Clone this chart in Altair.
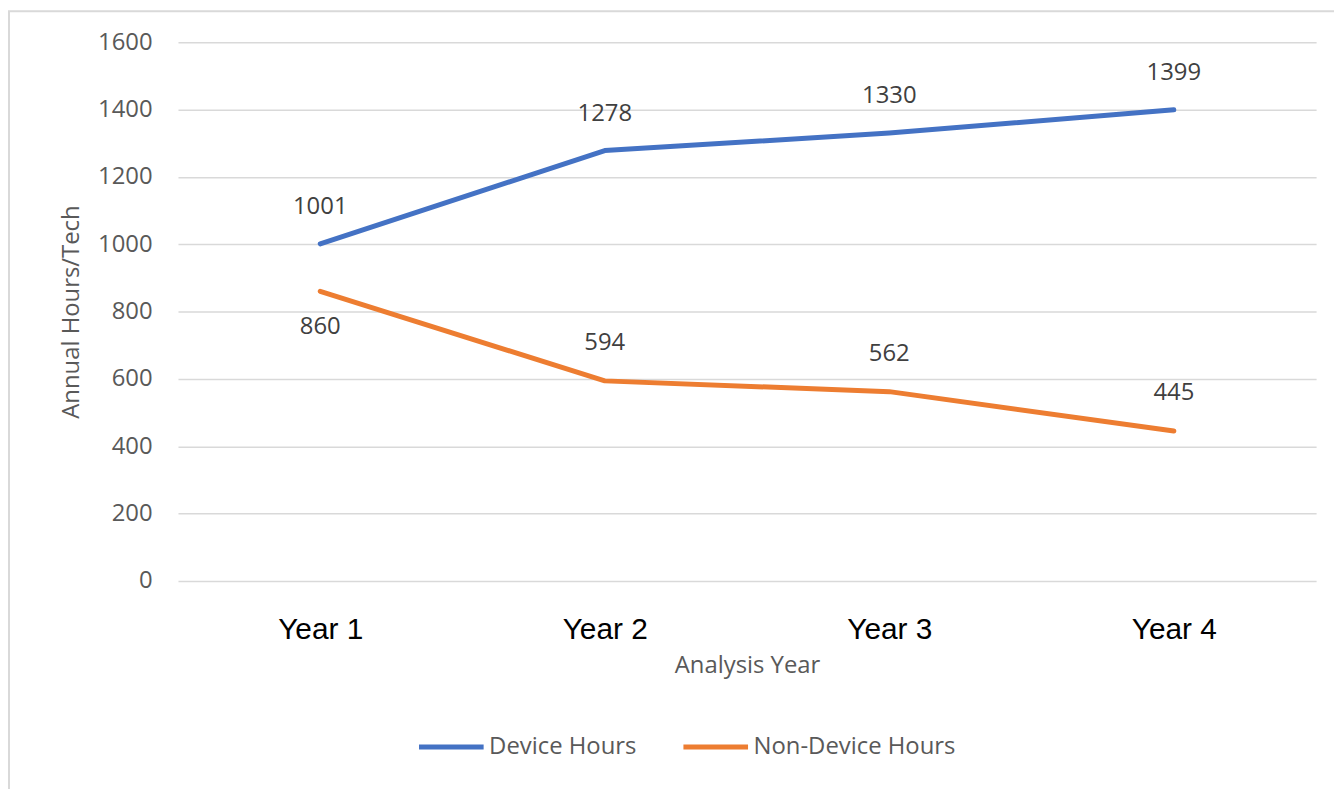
import altair as alt
import pandas as pd

years = ["Year 1", "Year 2", "Year 3", "Year 4"]
device_hours = [1001, 1278, 1330, 1399]
non_device_hours = [860, 594, 562, 445]
series_names = ["Device Hours", "Non-Device Hours"]
series_colors = ["#4472C4", "#ED7D31"]
y_ticks = [0, 200, 400, 600, 800, 1000, 1200, 1400, 1600]

rows = []
for yr, d, n in zip(years, device_hours, non_device_hours):
    rows.append({"year": yr, "series": series_names[0], "value": d})
    rows.append({"year": yr, "series": series_names[1], "value": n})
df = pd.DataFrame(rows)

FONT = "Open Sans"
GRAY = "#595959"

x_enc = alt.X(
    "year:N",
    sort=years,
    scale=alt.Scale(type="point", padding=0.5),
    axis=alt.Axis(
        title="Analysis Year",
        labelAngle=0,
        labelFont="Liberation Sans",
        labelFontSize=30,
        labelColor="#000000",
        labelPadding=34,
        titleFont=FONT,
        titleFontSize=24,
        titleColor=GRAY,
        titleFontWeight="normal",
        titlePadding=9,
        domain=False,
        ticks=False,
        grid=False,
    ),
)
y_enc = alt.Y(
    "value:Q",
    scale=alt.Scale(domain=[0, 1600], nice=False),
    axis=alt.Axis(
        title="Annual Hours/Tech",
        values=y_ticks,
        format="d",
        labelFont=FONT,
        labelFontSize=24,
        labelColor=GRAY,
        labelPadding=26,
        titleFont=FONT,
        titleFontSize=24,
        titleColor=GRAY,
        titleFontWeight="normal",
        titlePadding=14,
        domain=False,
        ticks=False,
        grid=True,
        gridColor="#D9D9D9",
        gridWidth=1.5,
    ),
)
color_enc = alt.Color(
    "series:N",
    scale=alt.Scale(domain=series_names, range=series_colors),
    legend=alt.Legend(
        title=None,
        orient="none",
        direction="horizontal",
        legendX=240,
        legendY=674,
        symbolType="stroke",
        symbolSize=4225,
        symbolStrokeWidth=5,
        labelFont=FONT,
        labelFontSize=24,
        labelColor=GRAY,
        labelOffset=3,
        labelLimit=0,
        columnPadding=36,
    ),
)

base = alt.Chart(df)

lines = base.mark_line(strokeWidth=5, strokeCap="round", strokeJoin="round").encode(
    x=x_enc, y=y_enc, color=color_enc
)

label_style = dict(font=FONT, fontSize=24, color="#404040", baseline="middle")

labels_above = base.transform_filter(
    (alt.datum.series == series_names[0])
).mark_text(dy=-37, **label_style).encode(
    x=alt.X("year:N", sort=years), y="value:Q", text="value:Q"
)
labels_nd_above = base.transform_filter(
    (alt.datum.series == series_names[1]) & (alt.datum.year != years[0])
).mark_text(dy=-38, **label_style).encode(
    x=alt.X("year:N", sort=years), y="value:Q", text="value:Q"
)
labels_nd_below = base.transform_filter(
    (alt.datum.series == series_names[1]) & (alt.datum.year == years[0])
).mark_text(dy=36, **label_style).encode(
    x=alt.X("year:N", sort=years), y="value:Q", text="value:Q"
)

frame = alt.Chart(alt.Data(values=[{}])).mark_rect(
    fill=None, stroke="#D9D9D9", strokeWidth=2, clip=False
).encode(
    x=alt.value(-170), x2=alt.value(1300), y=alt.value(-31), y2=alt.value(900)
)

chart = alt.layer(frame, lines, labels_above, labels_nd_above, labels_nd_below).properties(
    width=1145,
    height=542,
    padding={"left": 171, "top": 32, "right": 18, "bottom": 207},
    autosize=alt.AutoSizeParams(type="none"),
    background="white",
).configure_view(stroke=None)

chart.save("out.html", embed_options={"renderer": "svg", "actions": False})
